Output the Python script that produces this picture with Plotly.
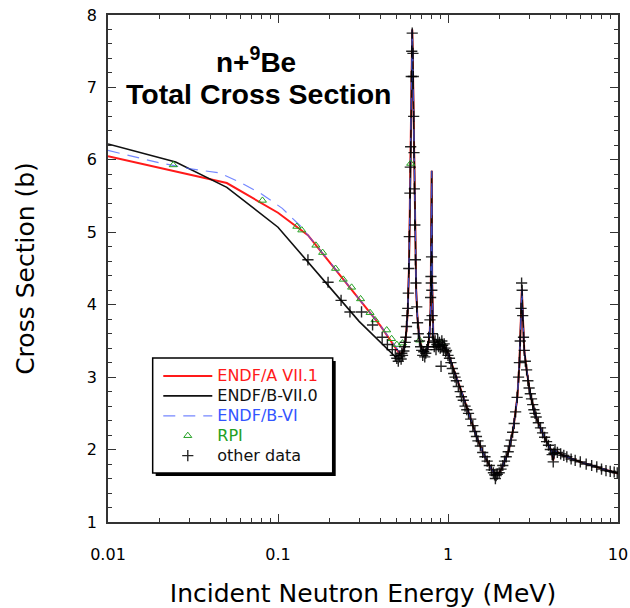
import plotly.graph_objects as go

# ---------------- data ----------------
# shared resonance-region evaluation curve (all evaluations coincide above ~0.5 MeV)
E_res = [0.52, 0.54, 0.56, 0.57, 0.58, 0.59, 0.60, 0.605, 0.61, 0.616, 0.62, 0.625, 0.63,
         0.635, 0.64, 0.65, 0.66, 0.68, 0.70, 0.73, 0.76, 0.78, 0.79, 0.795, 0.80, 0.802,
         0.804, 0.807, 0.81, 0.82, 0.84, 0.87, 0.90, 0.95, 1.0, 1.05, 1.12, 1.23, 1.32,
         1.47, 1.61, 1.77, 1.89, 2.0, 2.07, 2.26, 2.42, 2.56, 2.63, 2.67, 2.70, 2.72,
         2.745, 2.78, 2.81, 2.9, 3.04, 3.24, 3.46, 3.8, 4.07, 4.16, 4.22, 4.3, 4.76,
         5.97, 7.49, 10.0]
S_res = [3.32, 3.34, 3.48, 3.65, 3.92, 4.55, 5.6, 6.4, 7.2, 7.8, 7.5, 7.0, 6.3,
         5.6, 5.0, 4.2, 3.85, 3.52, 3.40, 3.34, 3.40, 3.6, 3.95, 4.45, 5.4, 5.85,
         5.3, 4.3, 3.85, 3.55, 3.45, 3.42, 3.44, 3.42, 3.33, 3.2, 3.0, 2.73, 2.5,
         2.18, 1.95, 1.76, 1.66, 1.68, 1.74, 1.96, 2.28, 2.73, 3.18, 3.65, 4.1, 4.22,
         3.95, 3.6, 3.37, 3.1, 2.78, 2.5, 2.32, 2.11, 1.98, 1.85, 2.0, 1.98, 1.92,
         1.83, 1.76, 1.67]

# ENDF/A VII.1 below the resonances
E_a71 = [0.01, 0.05, 0.1, 0.15, 0.4, 0.5]
S_a71 = [6.05, 5.68, 5.27, 4.96, 3.71, 3.38]

# ENDF/B-VII.0 below the resonances
E_b70 = [0.01, 0.025, 0.05, 0.1, 0.2, 0.3, 0.49]
S_b70 = [6.22, 5.97, 5.62, 5.07, 4.25, 3.77, 3.28]

# ENDF/B-VI below the resonances
E_b6 = [0.01, 0.02, 0.03, 0.045, 0.06, 0.08, 0.106, 0.135, 0.2, 0.4, 0.5]
S_b6 = [6.13, 5.96, 5.88, 5.82, 5.69, 5.53, 5.33, 5.09, 4.6, 3.71, 3.4]

# RPI measurement
E_rpi = [0.0242, 0.081, 0.129, 0.138, 0.167, 0.183, 0.218, 0.242, 0.271, 0.306, 0.348,
         0.372, 0.436, 0.466, 0.50, 0.54, 0.603, 0.68, 0.86, 0.92]
S_rpi = [5.93, 5.44, 5.08, 5.03, 4.82, 4.72, 4.50, 4.35, 4.24, 4.08, 3.89,
         3.79, 3.65, 3.53, 3.45, 3.47, 5.95, 3.51, 3.45, 3.47]

# other data
E_oth = [0.15, 0.197, 0.235, 0.265, 0.31, 0.36, 0.41, 0.44, 0.47, 0.49, 0.50, 0.51, 0.52,
         0.53, 0.535, 0.54, 0.55, 0.555, 0.56, 0.565, 0.57, 0.575, 0.58, 0.584, 0.588,
         0.592, 0.597, 0.60, 0.603, 0.608, 0.612, 0.616, 0.622, 0.625, 0.628, 0.631,
         0.634, 0.638, 0.643, 0.648, 0.655, 0.662, 0.669, 0.68, 0.69, 0.70, 0.71, 0.72,
         0.73, 0.74, 0.75, 0.76, 0.77, 0.783, 0.79, 0.794, 0.797, 0.800, 0.803, 0.806,
         0.81, 0.82, 0.83, 0.84, 0.85, 0.86, 0.87, 0.88, 0.89, 0.90, 0.91, 0.92, 0.93,
         0.94, 0.95, 0.96, 0.97, 0.98, 1.0, 1.02, 1.04, 1.06, 1.08, 1.10, 1.12, 1.15,
         1.18, 1.20, 1.23, 1.26, 1.29, 1.32, 1.36, 1.40, 1.44, 1.47, 1.50, 1.55, 1.60,
         1.65, 1.70, 1.75, 1.80, 1.85, 1.88, 1.90, 1.92, 1.95, 2.0, 2.05, 2.10, 2.15,
         2.20, 2.26, 2.30, 2.35, 2.40, 2.45, 2.50, 2.55, 2.60, 2.63, 2.66, 2.69, 2.71,
         2.73, 2.75, 2.78, 2.81, 2.85, 2.90, 2.95, 3.0, 3.05, 3.10, 3.15, 3.20, 3.25,
         3.30, 3.40, 3.50, 3.60, 3.70, 3.80, 3.90, 4.0, 4.10, 4.16, 4.20, 4.26, 4.40,
         4.60, 4.80, 5.0, 5.3, 5.6, 6.0, 6.5, 7.0, 7.5, 8.0, 8.5, 9.0, 9.5, 9.9]
S_oth = [4.62, 4.31, 4.06, 3.90, 3.90, 3.72, 3.55, 3.45, 3.38, 3.30, 3.26, 3.22, 3.28,
         3.25, 3.33, 3.30, 3.36, 3.42, 3.48, 3.55, 3.70, 3.85, 3.95, 4.16, 4.50,
         4.94, 5.54, 5.90, 6.18, 7.15, 7.50, 7.75, 7.47, 7.15, 6.60, 6.10,
         5.60, 5.10, 4.62, 4.30, 3.97, 3.75, 3.60, 3.50, 3.42, 3.37, 3.30, 3.35,
         3.28, 3.33, 3.38, 3.42, 3.55, 3.79, 4.10, 4.39, 4.30, 4.66, 4.20, 3.85,
         3.60, 3.48, 3.42, 3.50, 3.38, 3.45, 3.52, 3.42, 3.48, 3.40, 3.15, 3.50, 3.44,
         3.38, 3.46, 3.40, 3.35, 3.37, 3.30, 3.26, 3.20, 3.12, 3.05, 3.00, 2.95, 2.87,
         2.80, 2.73, 2.68, 2.60, 2.55, 2.50, 2.42, 2.33, 2.25, 2.18, 2.12, 2.05, 1.96,
         1.90, 1.84, 1.78, 1.72, 1.68, 1.65, 1.60, 1.64, 1.66, 1.68, 1.73, 1.78, 1.84,
         1.90, 1.97, 2.05, 2.13, 2.24, 2.36, 2.52, 2.72, 3.00, 3.20, 3.50, 3.95, 4.30,
         4.20, 3.85, 3.55, 3.37, 3.22, 3.10, 2.95, 2.85, 2.77, 2.70, 2.62, 2.55, 2.50,
         2.45, 2.37, 2.30, 2.23, 2.17, 2.11, 2.06, 2.00, 1.93, 1.83, 1.95, 2.00, 1.96,
         1.94, 1.92, 1.90, 1.87, 1.85, 1.83, 1.80, 1.78, 1.76, 1.73, 1.71, 1.70, 1.69, 1.68]

X_TICKS = [0.01, 0.1, 1, 10]
X_TICKTEXT = ["0.01", "0.1", "1", "10"]
Y_TICKS = [1, 2, 3, 4, 5, 6, 7, 8]


def legend_name(text, color):
    return f"<span style='color:{color};font-size:16px'>{text}</span>"


# ---------------- figure ----------------
fig = go.Figure()

fig.add_trace(go.Scatter(
    x=E_a71 + E_res, y=S_a71 + S_res, mode="lines",
    name=legend_name("ENDF/A VII.1", "#ff1a1a"),
    line=dict(color="#ff1a1a", width=2)))
fig.add_trace(go.Scatter(
    x=E_b70 + E_res, y=S_b70 + S_res, mode="lines",
    name=legend_name("ENDF/B-VII.0", "#111111"),
    line=dict(color="#111111", width=1.6)))
fig.add_trace(go.Scatter(
    x=E_b6 + E_res, y=S_b6 + S_res, mode="lines",
    name=legend_name("ENDF/B-VI", "#3355ff"),
    line=dict(color="rgba(70,95,255,0.75)", width=1.2, dash="12px,8px")))
fig.add_trace(go.Scatter(
    x=E_rpi, y=S_rpi, mode="markers",
    name=legend_name("RPI", "#22a022"),
    marker=dict(symbol="triangle-up-open", size=7, color="#22a022",
                line=dict(width=1, color="#22a022"))))
fig.add_trace(go.Scatter(
    x=E_oth, y=S_oth, mode="markers",
    name=legend_name("other data", "#111111"),
    marker=dict(symbol="cross-thin", size=8, color="#111111",
                line=dict(width=1.4, color="rgba(0,0,0,0.85)"))))

# legend frame with drop shadow (paper coords)
bx0, bx1, by0, by1 = 0.0876, 0.4406, 0.0966, 0.3235
sx, sy = 3 / 510, 3 / 507
fig.add_shape(type="rect", xref="paper", yref="paper", layer="below",
              x0=bx0 + sx, x1=bx1 + sx, y0=by0 - sy, y1=by1 - sy,
              fillcolor="black", line=dict(width=0))
fig.add_shape(type="rect", xref="paper", yref="paper", layer="below",
              x0=bx0, x1=bx1, y0=by0, y1=by1,
              fillcolor="white", line=dict(width=1.5, color="black"))

# title annotations
fig.add_annotation(xref="paper", yref="paper", x=0.29, y=0.912,
                   text="<b>n+<sup>9</sup>Be</b>", showarrow=False,
                   font=dict(family="Liberation Sans", size=28, color="black"),
                   xanchor="center", yanchor="middle")
fig.add_annotation(xref="paper", yref="paper", x=0.296, y=0.845,
                   text="<b>Total Cross Section</b>", showarrow=False,
                   font=dict(family="Liberation Sans", size=28.5, color="black"),
                   xanchor="center", yanchor="middle")

axis_common = dict(showline=True, linecolor="#333333", linewidth=1.5, mirror="allticks",
                   ticks="inside", tickcolor="#333333", tickwidth=1.2, ticklen=8,
                   showgrid=False, zeroline=False, automargin=False,
                   tickfont=dict(family="DejaVu Sans", size=16, color="black"),
                   title_font=dict(family="DejaVu Sans", size=25, color="black"))

fig.update_xaxes(type="log", range=[-2, 1], tickvals=X_TICKS, ticktext=X_TICKTEXT,
                 minor=dict(ticks="inside", ticklen=4, tickcolor="#333333", dtick="D1"),
                 title_text="Incident Neutron Energy (MeV)", title_standoff=26,
                 ticklabelstandoff=17, **axis_common)
fig.update_yaxes(range=[1, 8], tickvals=Y_TICKS,
                 minor=dict(ticks="inside", ticklen=4, tickcolor="#333333", dtick=0.2),
                 title_text="Cross Section (b)", title_standoff=45,
                 ticklabelstandoff=6, **axis_common)

fig.update_layout(
    width=630, height=608,
    margin=dict(l=108, r=12, t=15, b=86),
    paper_bgcolor="white", plot_bgcolor="white",
    showlegend=True,
    legend=dict(x=bx0 + 0.011, y=by1 - 0.006, xanchor="left", yanchor="top",
                bgcolor="rgba(0,0,0,0)", borderwidth=0, itemwidth=49,
                font=dict(family="DejaVu Sans", size=13), tracegroupgap=0,
                itemclick=False),
)

fig.write_html("out.html")
